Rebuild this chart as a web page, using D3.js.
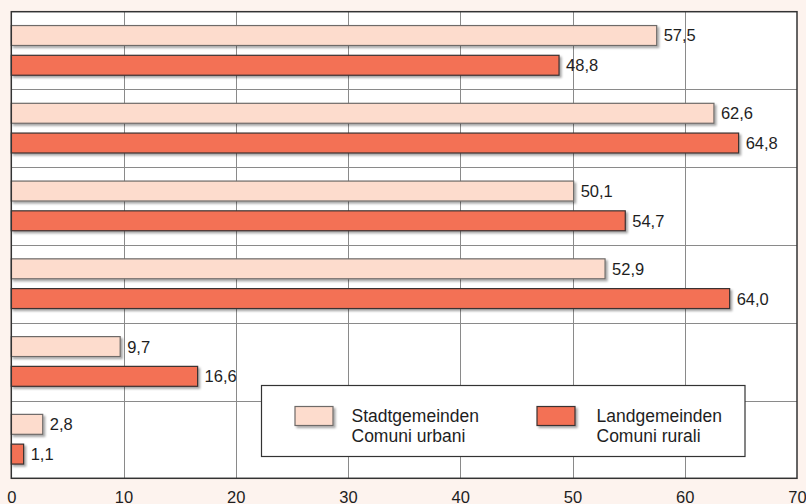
<!DOCTYPE html>
<html>
<head>
<meta charset="utf-8">
<script src="https://cdn.jsdelivr.net/npm/d3@7"></script>
<style>
  html, body { margin: 0; padding: 0; background: #fdf3ee; }
  svg { display: block; }
  text { font-family: "Liberation Sans", Arial, Helvetica, sans-serif; fill: #1e1e1e; }
</style>
</head>
<body>
<svg id="chart" width="806" height="504"></svg>
<script>
// Groups from top to bottom
const categories = ["1", "2", "3", "4", "5", "6"];
// Stadtgemeinden / Comuni urbani
const urbanValues = [57.5, 62.6, 50.1, 52.9, 9.7, 2.8];
// Landgemeinden / Comuni rurali
const ruralValues = [48.8, 64.8, 54.7, 64.0, 16.6, 1.1];
const seriesNames = [
  ["Stadtgemeinden", "Comuni urbani"],
  ["Landgemeinden", "Comuni rurali"]
];
const xTicks = [0, 10, 20, 30, 40, 50, 60, 70];

const fills = ["#fddccd", "#f37155"];
const strokes = ["#6e6a68", "#3a3030"];

const svg = d3.select("#chart");
const plot = { left: 11.3, right: 797, top: 11.7, bottom: 478.3 };

const defs = svg.append("defs");
const sh = defs.append("filter").attr("id", "shadow")
  .attr("x", "-20%").attr("y", "-20%").attr("width", "150%").attr("height", "160%");
sh.append("feDropShadow").attr("dx", 2).attr("dy", 2).attr("stdDeviation", 1.2)
  .attr("flood-color", "#000").attr("flood-opacity", 0.35);

const x = d3.scaleLinear().domain([0, 70]).range([plot.left, plot.right]);
const y = d3.scaleBand().domain(categories).range([plot.top, plot.bottom]).padding(0);
const bandH = y.bandwidth();
// bars sit in the upper part of each group band
const inner = d3.scaleBand().domain([0, 1])
  .range([bandH * 0.178, bandH * 0.817]).paddingInner(0.33).paddingOuter(0);

// plot background
svg.append("rect")
  .attr("x", plot.left).attr("y", plot.top)
  .attr("width", plot.right - plot.left).attr("height", plot.bottom - plot.top)
  .attr("fill", "#fff");

// vertical grid
svg.append("g").selectAll("line").data(xTicks.slice(1, -1)).join("line")
  .attr("x1", d => Math.round(x(d)) + 0.5).attr("x2", d => Math.round(x(d)) + 0.5)
  .attr("y1", plot.top).attr("y2", plot.bottom)
  .attr("stroke", "#8a8a8a").attr("stroke-width", 1);

// horizontal group separators
svg.append("g").selectAll("line").data(categories.slice(1)).join("line")
  .attr("x1", plot.left).attr("x2", plot.right)
  .attr("y1", d => Math.round(y(d)) + 0.5).attr("y2", d => Math.round(y(d)) + 0.5)
  .attr("stroke", "#8a8a8a").attr("stroke-width", 1);

// bars
const rows = categories.map((c, i) => ({ c, vals: [urbanValues[i], ruralValues[i]] }));
const groups = svg.append("g").selectAll("g").data(rows).join("g")
  .attr("transform", d => `translate(0,${y(d.c)})`);

const bars = groups.selectAll("g.bar").data(d => d.vals.map((v, k) => ({ v, k })))
  .join("g").attr("class", "bar");

bars.append("rect")
  .attr("x", x(0))
  .attr("y", d => inner(d.k))
  .attr("width", d => x(d.v) - x(0))
  .attr("height", inner.bandwidth())
  .attr("fill", d => fills[d.k])
  .attr("stroke", d => strokes[d.k])
  .attr("stroke-width", 1.2)
  .attr("filter", "url(#shadow)");

bars.append("text")
  .attr("x", d => x(d.v) + 7)
  .attr("y", d => inner(d.k) + inner.bandwidth() / 2 + 6)
  .attr("font-size", 16.5)
  .text(d => d3.format(".1f")(d.v).replace(".", ","));

// frame
svg.append("rect")
  .attr("x", plot.left).attr("y", plot.top)
  .attr("width", plot.right - plot.left).attr("height", plot.bottom - plot.top)
  .attr("fill", "none").attr("stroke", "#333").attr("stroke-width", 1.5);

// x axis labels
const xAxis = d3.axisBottom(x).tickValues(xTicks).tickSize(0).tickPadding(0)
  .tickFormat(d3.format("d"));
const ax = svg.append("g").attr("transform", `translate(0,${plot.bottom})`).call(xAxis);
ax.select(".domain").remove();
ax.selectAll("text")
  .attr("y", 503 - plot.bottom).attr("dy", null)
  .attr("font-size", 16.5)
  .attr("font-family", "Liberation Sans, Arial, sans-serif")
  .attr("fill", "#1e1e1e");

// legend
const lg = svg.append("g");
lg.append("rect")
  .attr("x", 261.5).attr("y", 385.5).attr("width", 483.5).attr("height", 71)
  .attr("fill", "#fff").attr("stroke", "#333").attr("stroke-width", 1.2);

const legendItems = [
  { sx: 295, tx: 351.5 },
  { sx: 537, tx: 596.5 }
];
legendItems.forEach((p, k) => {
  lg.append("rect")
    .attr("x", p.sx).attr("y", 406.5).attr("width", 38).attr("height", 19)
    .attr("fill", fills[k]).attr("stroke", strokes[k]).attr("stroke-width", 1.2)
    .attr("filter", "url(#shadow)");
  const t = lg.append("text").attr("x", p.tx).attr("y", 421.5).attr("font-size", 17.5);
  t.append("tspan").attr("x", p.tx).text(seriesNames[k][0]);
  t.append("tspan").attr("x", p.tx).attr("dy", 20).text(seriesNames[k][1]);
});
</script>
</body>
</html>
